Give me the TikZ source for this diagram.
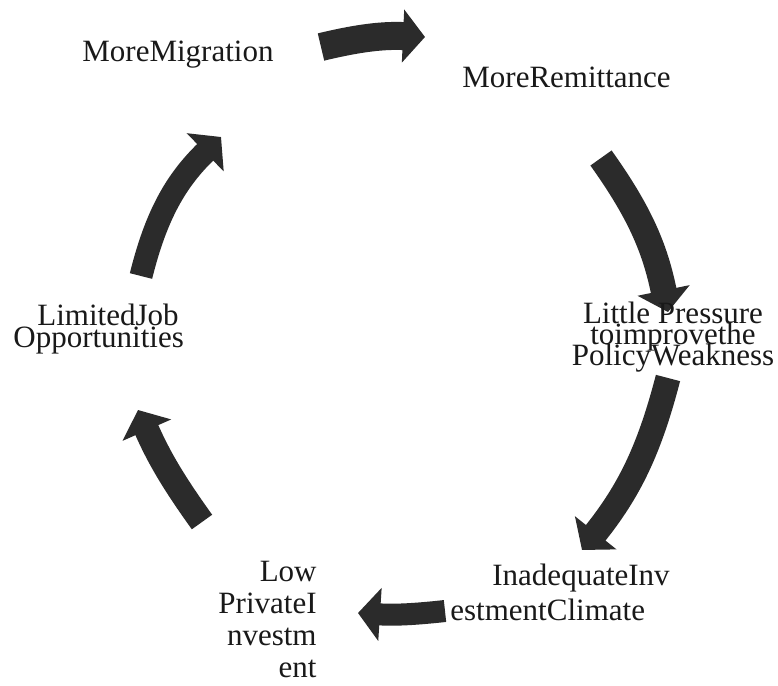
\documentclass[tikz,border=0pt]{standalone}
\usepackage{fontspec}
\setmainfont{Liberation Serif}
\usetikzlibrary{arrows.meta}
\definecolor{arrowgray}{HTML}{2B2B2B}
\setlength{\lineskiplimit}{-50pt}
\tikzset{
  cycarrow/.style={draw=arrowgray, line width=#1, -{Triangle[length=11pt,width=26pt]}},
  cyclabel/.style={inner sep=0pt, text=black!90,
    font=\fontsize{15.5}{#1}\selectfont},
}

\begin{document}
\begin{tikzpicture}[x=0.5pt, y=-0.5pt]
  \fill[white] (0,0) rectangle (778,686);
  \useasboundingbox (0,0) rectangle (778,686);

  % arrow ends
  \coordinate (migout) at (321,47);   \coordinate (remin) at (425,37);
  \coordinate (remout) at (601,158);  \coordinate (presin) at (668,312);
  \coordinate (presout) at (668,378); \coordinate (inadin) at (582,550);
  \coordinate (inadout) at (445,611); \coordinate (lowin) at (358,613);
  \coordinate (lowout) at (202,522);  \coordinate (limin) at (138,410);
  \coordinate (limout) at (141,276);  \coordinate (migin) at (221,137);

  \draw[cycarrow=14pt] (migout) to[bend left=8] (remin);
  \draw[cycarrow=13pt] (remout) to[bend left=12] (presin);
  \draw[cycarrow=12.5pt] (presout) to[bend left=12] (inadin);
  \draw[cycarrow=11pt] (inadout) to[bend left=5] (lowin);
  \draw[cycarrow=12.5pt] (lowout) to[bend left=6] (limin);
  \draw[cycarrow=11.5pt] (limout) to[bend left=16] (migin);

  % labels
  \node[cyclabel=18, anchor=base west] (mig) at (82,61) {MoreMigration};
  \node[cyclabel=18, anchor=base west] (rem) at (462,87) {MoreRemittance};
  \node[cyclabel=10.5, anchor=north, align=center] (pres) at (673,302)
    {Little Pressure\\toimprovethe\\PolicyWeakness};
  \node[cyclabel=17.5, anchor=north west, align=left] (inad) at (450,564)
    {\hspace*{21pt}InadequateInv\\estmentClimate};
  \node[cyclabel=16, anchor=north east, align=right] (low) at (317,561)
    {Low\\PrivateI\\nvestm\\ent};
  \node[cyclabel=11, anchor=north west, align=left] (lim) at (13,304)
    {\hspace*{12pt}LimitedJob\\Opportunities};
\end{tikzpicture}
\end{document}
